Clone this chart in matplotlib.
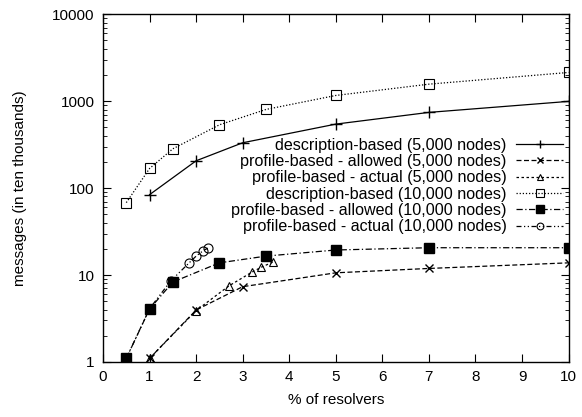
import matplotlib
matplotlib.use("Agg")
import matplotlib.pyplot as plt
from matplotlib.ticker import LogLocator, FixedLocator, NullFormatter

plt.rcParams['font.family'] = ['Liberation Sans', 'DejaVu Sans']
plt.rcParams['font.size'] = 11

# Data
desc_5k_x = [1, 2, 3, 5, 7, 10]
desc_5k_y = [84, 206, 332, 544, 742, 993]

allow_5k_x = [1, 2, 3, 5, 7, 10]
allow_5k_y = [1.1, 3.96, 7.34, 10.6, 11.9, 13.8]

actual_5k_x = [1, 2, 2.7, 3.2, 3.4, 3.65]
actual_5k_y = [1.1, 3.9, 7.47, 10.8, 12.3, 14.1]

desc_10k_x = [0.5, 1, 1.5, 2.5, 3.5, 5, 7, 10]
desc_10k_y = [68, 168, 283, 534, 802, 1162, 1567, 2137]

allow_10k_x = [0.5, 1, 1.5, 2.5, 3.5, 5, 7, 10]
allow_10k_y = [1.1, 4.07, 8.3, 13.8, 16.5, 19.4, 20.6, 20.6]

actual_10k_x = [0.5, 1, 1.45, 1.85, 2.0, 2.15, 2.25]
actual_10k_y = [1.1, 4.1, 8.5, 13.8, 16.5, 19.0, 20.4]

fig = plt.figure(figsize=(5.82, 4.17), dpi=100)
ax = fig.add_axes([0.177, 0.132, 0.8, 0.834])

lw = 0.9
ax.plot(desc_5k_x, desc_5k_y, color='black', lw=lw, ls='-', marker='+', ms=8,
        mew=1, label='description-based (5,000 nodes)')
ax.plot(allow_5k_x, allow_5k_y, color='black', lw=lw, ls=(0, (4, 2)), marker='x', ms=6,
        mew=1, label='profile-based - allowed (5,000 nodes)')
ax.plot(actual_5k_x, actual_5k_y, color='black', lw=lw, ls=(0, (2, 2)), marker='^', ms=6,
        mfc='none', mew=0.8, label='profile-based - actual (5,000 nodes)')
ax.plot(desc_10k_x, desc_10k_y, color='black', lw=lw, ls=(0, (1, 1.5)), marker='s', ms=7,
        mfc='none', mew=0.8, label='description-based (10,000 nodes)')
ax.plot(allow_10k_x, allow_10k_y, color='black', lw=lw, ls=(0, (5, 2, 1, 2)), marker='s', ms=7,
        label='profile-based - allowed (10,000 nodes)')
ax.plot(actual_10k_x, actual_10k_y, color='black', lw=lw, ls=(0, (4, 2, 1, 2, 1, 2)), marker='o', ms=6.5,
        mfc='none', mew=0.8, label='profile-based - actual (10,000 nodes)')

ax.set_yscale('log')
ax.set_xlim(0, 10)
ax.set_ylim(1, 10000)
ax.xaxis.set_major_locator(FixedLocator(range(0, 11)))
ax.yaxis.set_minor_locator(LogLocator(base=10, subs=range(2, 10), numticks=20))
ax.yaxis.set_minor_formatter(NullFormatter())
ax.set_yticks([1, 10, 100, 1000, 10000])
ax.set_yticklabels(['1', '10', '100', '1000', '10000'])

ax.tick_params(which='both', direction='in', top=True, right=True)
ax.tick_params(which='major', length=6, width=0.8, pad=6)
ax.tick_params(which='minor', length=3, width=0.6)
for s in ax.spines.values():
    s.set_linewidth(1)

ax.set_xlabel('% of resolvers', labelpad=6)
ax.set_ylabel('messages (in ten thousands)', labelpad=18)

leg = ax.legend(loc='center right', bbox_to_anchor=(0.9946, 0.506), markerfirst=False,
                frameon=False, handlelength=2.9, labelspacing=0.08, borderpad=0.2,
                borderaxespad=0, handletextpad=0.6, markerscale=0.75, fontsize=11.6)

fig.savefig('out.png', dpi=100)
